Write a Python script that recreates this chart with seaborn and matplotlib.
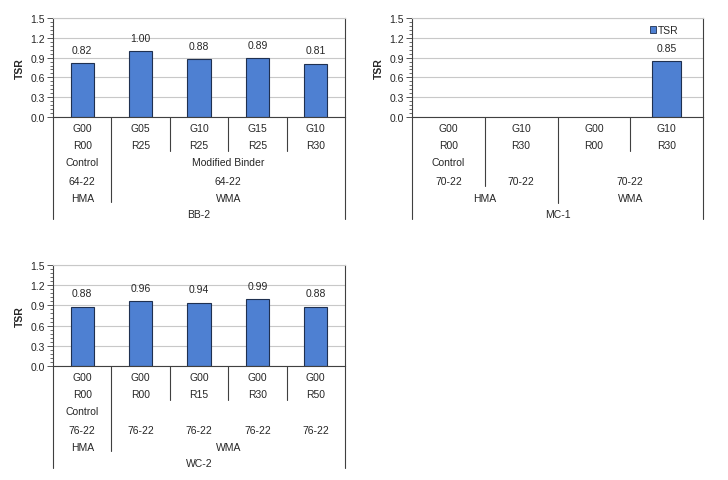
import numpy as np
import pandas as pd
import matplotlib
matplotlib.use("Agg")
import matplotlib.pyplot as plt
import seaborn as sns
from matplotlib.patches import Patch
from matplotlib.lines import Line2D
from matplotlib.ticker import FixedLocator

sns.set_style("white")
plt.rcParams['font.family'] = ['Liberation Sans', 'DejaVu Sans']

# ---------------- data ----------------
bb2_g = ["G00", "G05", "G10", "G15", "G10"]
bb2_r = ["R00", "R25", "R25", "R25", "R30"]
bb2_tsr = [0.82, 1.00, 0.88, 0.89, 0.81]

mc1_g = ["G00", "G10", "G00", "G10"]
mc1_r = ["R00", "R30", "R00", "R30"]
mc1_tsr = [np.nan, np.nan, np.nan, 0.85]

wc2_g = ["G00", "G00", "G00", "G00", "G00"]
wc2_r = ["R00", "R00", "R15", "R30", "R50"]
wc2_tsr = [0.88, 0.96, 0.94, 0.99, 0.88]

y_ticks = [0.0, 0.3, 0.6, 0.9, 1.2, 1.5]
y_minor = [0.06, 0.12, 0.18, 0.24, 0.36, 0.42, 0.48, 0.54, 0.66, 0.72, 0.78, 0.84,
           0.96, 1.02, 1.08, 1.14, 1.26, 1.32, 1.38, 1.44]

# group labels: (text, first category, last category)
bb2_row3 = [("Control", 0, 0), ("Modified Binder", 1, 4)]
bb2_row4 = [("64-22", 0, 0), ("64-22", 1, 4)]
bb2_row5 = [("HMA", 0, 0), ("WMA", 1, 4)]
bb2_mix = "BB-2"

mc1_row3 = [("Control", 0, 0)]
mc1_row4 = [("70-22", 0, 0), ("70-22", 1, 1), ("70-22", 2, 3)]
mc1_row5 = [("HMA", 0, 1), ("WMA", 2, 3)]
mc1_mix = "MC-1"

wc2_row3 = [("Control", 0, 0)]
wc2_row4 = [("76-22", 0, 0), ("76-22", 1, 1), ("76-22", 2, 2), ("76-22", 3, 3), ("76-22", 4, 4)]
wc2_row5 = [("HMA", 0, 0), ("WMA", 1, 4)]
wc2_mix = "WC-2"

BAR = "#4E80D2"
EDGE = "#1F3050"
FS = 7.5
TXT = '#262626'

fig = plt.figure(figsize=(7.28, 4.81), dpi=100)
W, H = 728, 481


def make_panel(rect_px, g, r, vals, row3, row4, row5, mix, short_seps, long_seps, legend=False):
    l, t, rgt, b = rect_px
    ax = fig.add_axes([l / W, 1 - b / H, (rgt - l) / W, (b - t) / H])
    hpx = b - t
    ids = [f"{i}:{gg}{rr}" for i, (gg, rr) in enumerate(zip(g, r))]
    df = pd.DataFrame({"id": ids, "TSR": vals})
    sns.barplot(data=df, x="id", y="TSR", order=ids, color=BAR, width=0.4,
                edgecolor=EDGE, linewidth=0.8, saturation=1, errorbar=None, ax=ax)
    for p in ax.patches:
        p.set_facecolor(BAR)
    n = len(ids)
    ax.set_xlim(-0.5, n - 0.5)
    ax.set_ylim(0, 1.5)
    ax.set_yticks(y_ticks)
    ax.set_yticklabels([f"{v:.1f}" for v in y_ticks], fontsize=FS, color=TXT)
    ax.yaxis.set_minor_locator(FixedLocator(y_minor))
    ax.tick_params(axis='y', which='major', direction='out', length=4, width=0.7, color='#555555', pad=2, left=True)
    ax.tick_params(axis='y', which='minor', direction='out', length=2.5, width=0.6, color='#555555', left=True)
    ax.set_xticks([])
    ax.set_xlabel("")
    ax.set_ylabel("TSR", fontsize=FS, fontweight='bold', labelpad=4, color=TXT)
    ax.grid(axis='y', which='major', color='#C8C8C8', linewidth=0.8)
    ax.set_axisbelow(True)
    for s in ['left', 'bottom']:
        ax.spines[s].set_color('#404040')
        ax.spines[s].set_linewidth(0.8)
    ax.spines['top'].set_color('#C8C8C8')
    ax.spines['top'].set_linewidth(0.8)
    ax.spines['right'].set_color('#404040')
    ax.spines['right'].set_linewidth(0.8)

    # data labels
    if ax.containers:
        labels = [("" if (v is None or np.isnan(v)) else f"{v:.2f}") for v in ax.containers[0].datavalues]
        ax.bar_label(ax.containers[0], labels=labels, padding=6, fontsize=FS, color=TXT)

    def fy(px):
        return -px / hpx

    tr = ax.get_xaxis_transform()
    # category text rows
    for i, (gg, rr) in enumerate(zip(g, r)):
        ax.text(i, fy(11), gg, transform=tr, ha='center', va='center', fontsize=FS, color=TXT)
        ax.text(i, fy(28), rr, transform=tr, ha='center', va='center', fontsize=FS, color=TXT)
    for rows, dy in ((row3, 45), (row4, 64), (row5, 81)):
        for txt, a, bb in rows:
            ax.text((a + bb) / 2, fy(dy), txt, transform=tr, ha='center', va='center',
                    fontsize=FS, color=TXT)
    ax.text((n - 1) / 2, fy(97), mix, transform=tr, ha='center', va='center',
            fontsize=FS, color=TXT)

    lc = '#404040'
    for x in short_seps:
        ax.add_line(Line2D([x, x], [0, fy(34)], transform=tr, color=lc, lw=0.8, clip_on=False))
    for x, depth in long_seps:
        ax.add_line(Line2D([x, x], [0, fy(depth)], transform=tr, color=lc, lw=0.8, clip_on=False))
    for x in (-0.5, n - 0.5):
        ax.add_line(Line2D([x, x], [0, fy(102)], transform=tr, color=lc, lw=0.8, clip_on=False))

    if legend:
        ax.legend(handles=[Patch(facecolor=BAR, edgecolor=EDGE, linewidth=0.6)], labels=["TSR"],
                  loc='upper right', bbox_to_anchor=(0.93, 0.97), frameon=False, fontsize=FS,
                  handlelength=0.6, handleheight=0.6, handletextpad=0.2, borderaxespad=0,
                  labelcolor=TXT)
    return ax


make_panel((53, 19, 345, 118), bb2_g, bb2_r, bb2_tsr, bb2_row3, bb2_row4, bb2_row5, bb2_mix,
           short_seps=[1.5, 2.5, 3.5], long_seps=[(0.5, 85)])
make_panel((412, 19, 703, 118), mc1_g, mc1_r, mc1_tsr, mc1_row3, mc1_row4, mc1_row5, mc1_mix,
           short_seps=[2.5], long_seps=[(0.5, 69), (1.5, 86)], legend=True)
make_panel((53, 266, 345, 367), wc2_g, wc2_r, wc2_tsr, wc2_row3, wc2_row4, wc2_row5, wc2_mix,
           short_seps=[1.5, 2.5, 3.5], long_seps=[(0.5, 85)])

fig.savefig("out.png", dpi=100)
